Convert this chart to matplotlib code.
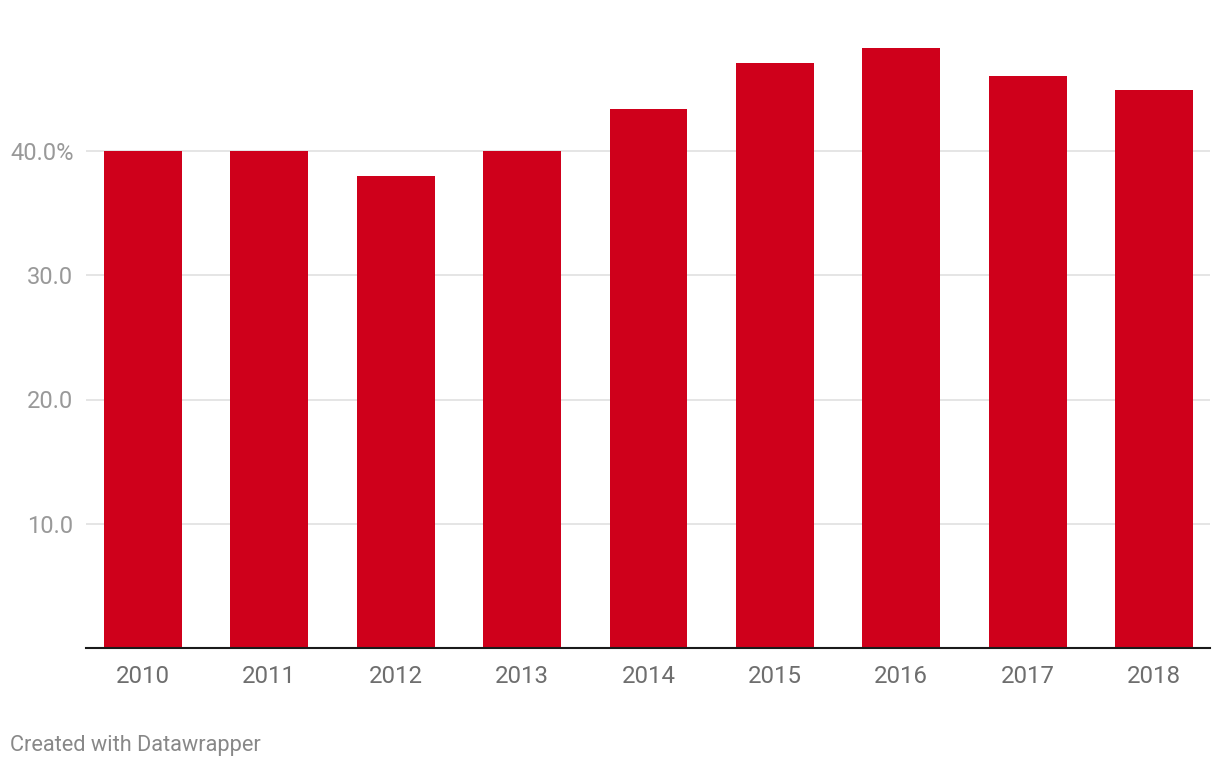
import matplotlib.pyplot as plt

# Daten
years = ["2010", "2011", "2012", "2013", "2014", "2015", "2016", "2017", "2018"]
values = [40.0, 40.0, 38.0, 40.0, 43.4, 47.1, 48.3, 46.05, 44.9]
yticks = [10, 20, 30, 40]
ytickLabels = ["10.0", "20.0", "30.0", "40.0%"]

plt.rcParams['font.family'] = ['Roboto', 'DejaVu Sans']

fig = plt.figure(figsize=(12.2, 7.7), dpi=100)
ax = fig.add_axes([86 / 1220, 1 - 648 / 770, (1210 - 86) / 1220, 648 / 770])

x = range(len(years))
ax.bar(x, values, width=0.617, color='#cf001b', zorder=3)

ax.set_xlim(-0.451, 8.443)
ax.set_ylim(0, 648 / 12.425)

# siatka
ax.set_yticks(yticks)
ax.set_yticklabels(ytickLabels, color='#999999', fontsize=17)
ax.yaxis.grid(True, color='#e3e3e3', linewidth=1.3, zorder=0)
ax.tick_params(axis='y', length=0, pad=9)

ax.set_xticks(list(x))
ax.set_xticklabels(years, color='#6e6e6e', fontsize=17.3)
ax.tick_params(axis='x', length=0, pad=12)

for side in ['top', 'right', 'left']:
    ax.spines[side].set_visible(False)
ax.spines['bottom'].set_color('#1a1a1a')
ax.spines['bottom'].set_linewidth(1.5)
ax.spines['bottom'].set_zorder(4)

fig.text(10 / 1220, 1 - 746 / 770, "Created with Datawrapper", color='#888888',
         fontsize=15.7, va='center', ha='left')

fig.savefig('out.png', dpi=100)
